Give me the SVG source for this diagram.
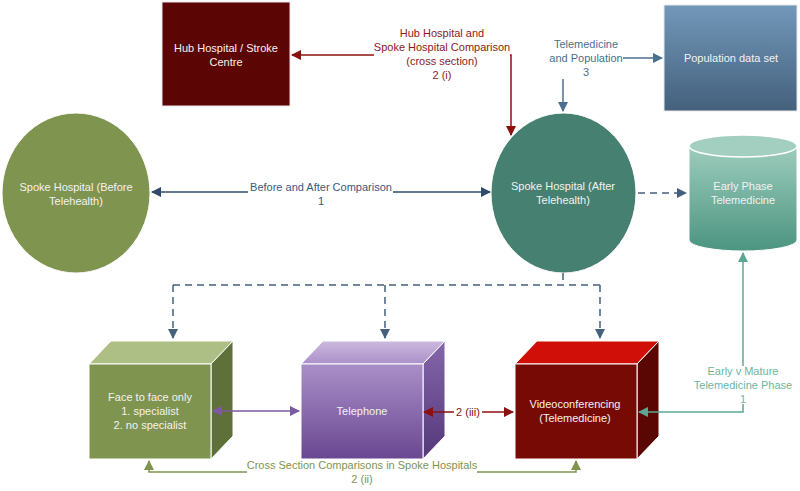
<svg xmlns="http://www.w3.org/2000/svg" width="800" height="491" viewBox="0 0 800 491">
<style>
text{font-family:"Liberation Sans",Arial,sans-serif;font-size:11px;text-anchor:middle}
.w{fill:#f2f2f2}
.edge{fill:none;stroke-width:1.5}
.dash{stroke:#44607d;stroke-dasharray:7 5}
</style>
<defs>
<linearGradient id="gPop" x1="0" y1="0" x2="0" y2="1"><stop offset="0" stop-color="#7298b9"/><stop offset="1" stop-color="#44607d"/></linearGradient>
<linearGradient id="gCyl" x1="0" y1="0" x2="0" y2="1"><stop offset="0" stop-color="#a6d2c3"/><stop offset="1" stop-color="#4b9580"/></linearGradient>
<linearGradient id="gTel" x1="0" y1="0" x2="0" y2="1"><stop offset="0" stop-color="#a98fc8"/><stop offset="1" stop-color="#6a4791"/></linearGradient>
<linearGradient id="gTelTop" x1="0" y1="0" x2="0" y2="1"><stop offset="0" stop-color="#cbb9de"/><stop offset="1" stop-color="#ab91c9"/></linearGradient>
<linearGradient id="gTelSide" x1="0" y1="0" x2="0" y2="1"><stop offset="0" stop-color="#8466aa"/><stop offset="1" stop-color="#55387a"/></linearGradient>
<marker id="aRed" viewBox="0 0 10 10" refX="9" refY="5" markerWidth="7" markerHeight="7" orient="auto-start-reverse"><path d="M0,0L10,5L0,10z" fill="#8b1010"/></marker>
<marker id="aBlue" viewBox="0 0 10 10" refX="9" refY="5" markerWidth="7" markerHeight="7" orient="auto-start-reverse"><path d="M0,0L10,5L0,10z" fill="#4a6f8f"/></marker>
<marker id="aNavy" viewBox="0 0 10 10" refX="9" refY="5" markerWidth="7" markerHeight="7" orient="auto-start-reverse"><path d="M0,0L10,5L0,10z" fill="#2f4a6a"/></marker>
<marker id="aDash" viewBox="0 0 10 10" refX="9" refY="5" markerWidth="7" markerHeight="7" orient="auto-start-reverse"><path d="M0,0L10,5L0,10z" fill="#44607d"/></marker>
<marker id="aTeal" viewBox="0 0 10 10" refX="9" refY="5" markerWidth="7" markerHeight="7" orient="auto-start-reverse"><path d="M0,0L10,5L0,10z" fill="#5aa893"/></marker>
<marker id="aPur" viewBox="0 0 10 10" refX="9" refY="5" markerWidth="7" markerHeight="7" orient="auto-start-reverse"><path d="M0,0L10,5L0,10z" fill="#7b5a9f"/></marker>
<marker id="aOl" viewBox="0 0 10 10" refX="9" refY="5" markerWidth="7" markerHeight="7" orient="auto-start-reverse"><path d="M0,0L10,5L0,10z" fill="#7f944f"/></marker>
</defs>
<rect width="800" height="491" fill="#ffffff"/>

<g id="hub">
<rect x="162" y="2" width="128" height="104" fill="#5c0505" stroke="#e8e8e8" stroke-width="1"/>
<text class="w" x="226" y="52">Hub Hospital / Stroke</text>
<text class="w" x="226" y="66">Centre</text>
</g>

<g id="population">
<rect x="664" y="5" width="133" height="106" fill="url(#gPop)" stroke="#e8e8e8" stroke-width="1"/>
<text class="w" x="731" y="62">Population data set</text>
</g>

<g id="spoke-before">
<ellipse cx="76" cy="193" rx="74" ry="80" fill="#7f944f" stroke="#ffffff" stroke-width="1"/>
<text class="w" x="76" y="191">Spoke Hospital (Before</text>
<text class="w" x="76" y="205">Telehealth)</text>
</g>

<g id="spoke-after">
<ellipse cx="563.5" cy="193" rx="72.5" ry="80" fill="#468070" stroke="#ffffff" stroke-width="1"/>
<text class="w" x="563" y="190">Spoke Hospital (After</text>
<text class="w" x="563" y="204">Telehealth)</text>
</g>

<g id="early-phase">
<path d="M689,146 L689,240 A54,11 0 0 0 797,240 L797,146 A54,11 0 0 0 689,146 Z" fill="url(#gCyl)" stroke="#ffffff" stroke-width="1"/>
<ellipse cx="743" cy="146" rx="54" ry="11" fill="#a3cfc0" stroke="#ffffff" stroke-width="1.5"/>
<text class="w" x="743" y="190">Early Phase</text>
<text class="w" x="743" y="204">Telemedicine</text>
</g>

<g id="face-to-face">
<polygon points="89,364 111,341 233,341 211,364" fill="#aebf86" stroke="#ffffff" stroke-width="1"/>
<polygon points="211,364 233,341 233,436 211,459" fill="#5f7039" stroke="#ffffff" stroke-width="1"/>
<rect x="89" y="364" width="122" height="95" fill="#7f944f" stroke="#ffffff" stroke-width="1"/>
<text class="w" x="150" y="401">Face to face only</text>
<text class="w" x="150" y="415">1. specialist</text>
<text class="w" x="150" y="429">2. no specialist</text>
</g>

<g id="telephone">
<polygon points="301,364 323,341 445,341 423,364" fill="url(#gTelTop)" stroke="#ffffff" stroke-width="1"/>
<polygon points="423,364 445,341 445,436 423,459" fill="url(#gTelSide)" stroke="#ffffff" stroke-width="1"/>
<rect x="301" y="364" width="122" height="95" fill="url(#gTel)" stroke="#ffffff" stroke-width="1"/>
<text class="w" x="362" y="415">Telephone</text>
</g>

<g id="videoconferencing">
<polygon points="515,364 537,341 659,341 637,364" fill="#d01008" stroke="#ffffff" stroke-width="1"/>
<polygon points="637,364 659,341 659,436 637,459" fill="#5a0603" stroke="#ffffff" stroke-width="1"/>
<rect x="515" y="364" width="122" height="95" fill="#780a06" stroke="#ffffff" stroke-width="1"/>
<text class="w" x="575" y="408">Videoconferencing</text>
<text class="w" x="575" y="422">(Telemedicine)</text>
</g>

<g id="connectors">
<path class="edge" d="M374,55 L292,55" stroke="#8b1010" marker-end="url(#aRed)"/>
<path class="edge" d="M510,55 L511,55 L511,135" stroke="#8b1010" marker-end="url(#aRed)"/>
<g fill="#8b1a1a">
<text x="442" y="37">Hub Hospital and</text>
<text x="442" y="51">Spoke Hospital Comparison</text>
<text x="442" y="65">(cross section)</text>
<text x="442" y="79">2 (i)</text>
</g>
<path class="edge" d="M623,58 L662,58" stroke="#4a6f8f" marker-end="url(#aBlue)"/>
<path class="edge" d="M563,79 L563,111" stroke="#4a6f8f" marker-end="url(#aBlue)"/>
<g fill="#4a6f8f">
<text x="586" y="48">Telemedicine</text>
<text x="586" y="62">and Population</text>
<text x="586" y="76">3</text>
</g>
<path class="edge" d="M248,192 L152,192" stroke="#2f4a6a" marker-end="url(#aNavy)"/>
<path class="edge" d="M393,192 L490,192" stroke="#2f4a6a" marker-end="url(#aNavy)"/>
<g fill="#3a5a7c">
<text x="321" y="191">Before and After Comparison</text>
<text x="321" y="205">1</text>
</g>
<path class="edge dash" d="M638,193 L686,193" marker-end="url(#aDash)"/>
<path class="edge dash" d="M563,273 L563,285"/>
<path class="edge dash" d="M173,285 L600,285"/>
<path class="edge dash" d="M173,285 L173,338" marker-end="url(#aDash)"/>
<path class="edge dash" d="M385,285 L385,338" marker-end="url(#aDash)"/>
<path class="edge dash" d="M600,285 L600,338" marker-end="url(#aDash)"/>
<path class="edge" d="M743,366 L743,253" stroke="#5aa893" marker-end="url(#aTeal)"/>
<path class="edge" d="M743,404 L743,412 L639,412" stroke="#5aa893" marker-end="url(#aTeal)"/>
<g fill="#6cb5a0">
<text x="743" y="375">Early v Mature</text>
<text x="743" y="389">Telemedicine Phase</text>
<text x="743" y="403">1</text>
</g>
<path class="edge" d="M213,411 L299,411" stroke="#7b5a9f" marker-start="url(#aPur)" marker-end="url(#aPur)"/>
<path class="edge" d="M424,412 L454,412" stroke="#8b1010" marker-start="url(#aRed)"/>
<path class="edge" d="M482,412 L513,412" stroke="#8b1010" marker-end="url(#aRed)"/>
<text x="468" y="416" fill="#7a1515">2 (iii)</text>
<path class="edge" d="M247,472 L149,472 L149,461" stroke="#7f944f" marker-end="url(#aOl)"/>
<path class="edge" d="M477,472 L576,472 L576,461" stroke="#7f944f" marker-end="url(#aOl)"/>
<g fill="#7f944f">
<text x="362" y="469">Cross Section Comparisons in Spoke Hospitals</text>
<text x="362" y="483">2 (ii)</text>
</g>
</g>
</svg>
